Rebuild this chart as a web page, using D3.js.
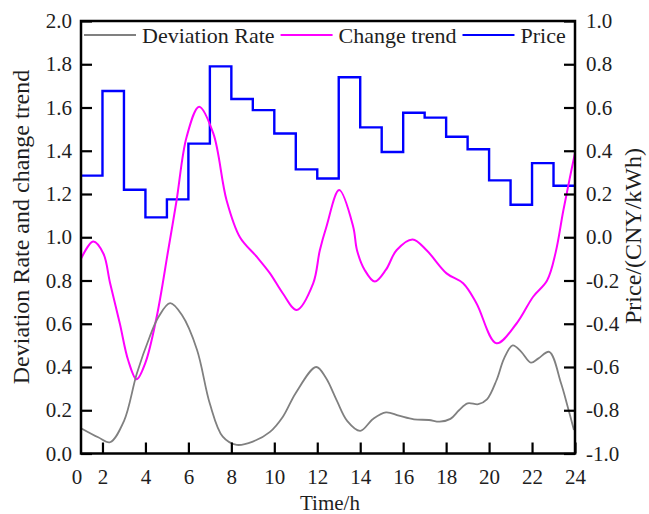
<!DOCTYPE html>
<html>
<head>
<meta charset="utf-8">
<script src="https://cdn.jsdelivr.net/npm/d3@7/dist/d3.min.js"></script>
<style>
  html, body { margin: 0; padding: 0; background: #fff; }
  svg { display: block; }
  text { font-family: "Liberation Serif", "Times New Roman", serif; fill: #1e1e1e; }
</style>
</head>
<body>
<svg id="chart" width="649" height="514"></svg>
<script>
// Hourly price (CNY/kWh), one step per hour starting at hour 1
const priceHours  = [1, 2, 3, 4, 5, 6, 7, 8, 9, 10, 11, 12, 13, 14, 15, 16, 17, 18, 19, 20, 21, 22, 23];
const priceValues = [0.285, 0.676, 0.22, 0.092, 0.175, 0.433, 0.79, 0.639, 0.588, 0.48, 0.314, 0.272,
                     0.74, 0.508, 0.394, 0.576, 0.553, 0.465, 0.407, 0.263, 0.15, 0.343, 0.238];

// Deviation rate curve (hour, value)
const devHours  = [1.0, 1.8, 2.35, 3.0, 3.6, 4.2, 4.6, 5.15, 5.7, 6.4, 7.0, 7.6, 8.25, 9.0, 9.8, 10.4,
                   11.0, 11.95, 12.4, 12.9, 13.4, 14.0, 14.6, 15.2, 15.8, 16.5, 17.2, 17.7, 18.2, 18.6,
                   19.0, 19.5, 19.9, 20.35, 20.7, 21.1, 21.5, 21.95, 22.3, 22.8, 23.35, 23.65, 23.95];
const devValues = [0.117, 0.075, 0.052, 0.15, 0.37, 0.54, 0.63, 0.695, 0.64, 0.48, 0.23, 0.078, 0.04,
                   0.055, 0.10, 0.17, 0.28, 0.40, 0.35, 0.247, 0.15, 0.105, 0.16, 0.19, 0.175, 0.158,
                   0.155, 0.147, 0.16, 0.2, 0.232, 0.228, 0.25, 0.34, 0.44, 0.50, 0.47, 0.42, 0.44,
                   0.47, 0.325, 0.22, 0.109];

// Change trend curve (hour, value)
const trendHours  = [1.0, 1.57, 2.04, 2.35, 2.81, 3.2, 3.59, 4.0, 4.52, 5.06, 5.45, 5.92, 6.5, 7.16,
                     7.78, 8.4, 9.18, 9.8, 10.4, 11.04, 11.81, 12.12, 12.43, 13.02, 13.67, 13.85,
                     14.2, 14.68, 15.2, 15.69, 16.44, 17.09, 18.02, 18.79, 19.41, 20.34, 21.27,
                     22.05, 22.7, 23.1, 23.45, 23.75, 24.0];
const trendValues = [0.90, 0.98, 0.925, 0.79, 0.60, 0.43, 0.343, 0.42, 0.63, 0.94, 1.17, 1.465,
                     1.604, 1.48, 1.17, 1.0, 0.91, 0.833, 0.74, 0.664, 0.787, 0.94, 1.05, 1.218,
                     1.05, 0.94, 0.85, 0.795, 0.85, 0.94, 0.99, 0.94, 0.833, 0.787, 0.695, 0.51,
                     0.60, 0.725, 0.80, 0.93, 1.12, 1.27, 1.39];

// Axis ticks and labels
const xTicks = [2, 4, 6, 8, 10, 12, 14, 16, 18, 20, 22, 24];
const xOriginLabel = "0";
const leftTicks  = [0, 0.2, 0.4, 0.6, 0.8, 1.0, 1.2, 1.4, 1.6, 1.8, 2.0];
const rightTicks = [-1.0, -0.8, -0.6, -0.4, -0.2, 0.0, 0.2, 0.4, 0.6, 0.8, 1.0];
const seriesNames = ["Deviation Rate", "Change trend", "Price"];
const seriesColors = ["#808080", "#ff00ff", "#0000ff"];

const plot = { left: 81, right: 575, top: 21, bottom: 453.5 };
const svg = d3.select("#chart");

const x = d3.scaleLinear().domain([1, 24]).range([plot.left, plot.right]);
const yL = d3.scaleLinear().domain([0, 2]).range([plot.bottom, plot.top]);
const yR = d3.scaleLinear().domain([-1, 1]).range([plot.bottom, plot.top]);

// One-decimal labels with a plain hyphen for negatives
const fmt1 = v => d3.format(".1f")(v).replace("\u2212", "-");

svg.append("defs").append("clipPath").attr("id", "plotClip")
  .append("rect").attr("x", plot.left).attr("y", plot.top)
  .attr("width", plot.right - plot.left).attr("height", plot.bottom - plot.top);

const g = svg.append("g").attr("clip-path", "url(#plotClip)");

// Price step line
const priceData = priceHours.map((h, i) => [h, priceValues[i]]);
priceData.push([24, priceValues[priceValues.length - 1]]);
g.append("path")
  .datum(priceData)
  .attr("fill", "none")
  .attr("stroke", seriesColors[2])
  .attr("stroke-width", 2.4)
  .attr("d", d3.line().x(d => x(d[0])).y(d => yR(d[1])).curve(d3.curveStepAfter));

// Smooth curves
const smooth = d3.line().x(d => x(d[0])).y(d => yL(d[1])).curve(d3.curveCatmullRom.alpha(0.5));
g.append("path")
  .datum(trendHours.map((h, i) => [h, trendValues[i]]))
  .attr("fill", "none").attr("stroke", seriesColors[1]).attr("stroke-width", 2)
  .attr("d", smooth);
g.append("path")
  .datum(devHours.map((h, i) => [h, devValues[i]]))
  .attr("fill", "none").attr("stroke", seriesColors[0]).attr("stroke-width", 1.8)
  .attr("d", smooth);

// Axes with inward ticks
const tickFont = 21;
const leftAxis = svg.append("g").attr("transform", `translate(${plot.left},0)`)
  .call(d3.axisLeft(yL).tickValues(leftTicks).tickFormat(fmt1)
    .tickSizeInner(-11).tickSizeOuter(0).tickPadding(9));
const rightAxis = svg.append("g").attr("transform", `translate(${plot.right},0)`)
  .call(d3.axisRight(yR).tickValues(rightTicks).tickFormat(fmt1)
    .tickSizeInner(-11).tickSizeOuter(0).tickPadding(11));
const bottomAxis = svg.append("g").attr("transform", `translate(0,${plot.bottom})`)
  .call(d3.axisBottom(x).tickValues(xTicks).tickFormat(d3.format("d"))
    .tickSizeInner(-11).tickSizeOuter(0).tickPadding(16));

[leftAxis, rightAxis, bottomAxis].forEach(ax => {
  ax.select(".domain").remove();
  ax.selectAll(".tick line").attr("stroke", "#000").attr("stroke-width", 2.2);
  ax.selectAll(".tick text")
    .style("font-family", '"Liberation Serif", "Times New Roman", serif')
    .style("font-size", tickFont + "px").attr("fill", "#1e1e1e");
});
rightAxis.selectAll(".tick text").attr("text-anchor", "start");

// Origin label on the time axis
svg.append("text")
  .attr("x", plot.left - 4).attr("y", plot.bottom + 16).attr("dy", "0.71em")
  .attr("text-anchor", "middle").style("font-size", tickFont + "px")
  .text(xOriginLabel);

// Frame
svg.append("rect")
  .attr("x", plot.left).attr("y", plot.top)
  .attr("width", plot.right - plot.left).attr("height", plot.bottom - plot.top)
  .attr("fill", "none").attr("stroke", "#000").attr("stroke-width", 2.5);

// Axis titles
svg.append("text")
  .attr("x", (plot.left + plot.right) / 2 + 2).attr("y", 510)
  .attr("text-anchor", "middle").style("font-size", "21px")
  .text("Time/h");
svg.append("text")
  .attr("transform", "translate(29,227) rotate(-90)")
  .attr("text-anchor", "middle").style("font-size", "24px")
  .text("Deviation Rate and change trend");
svg.append("text")
  .attr("transform", "translate(641,236) rotate(-90)")
  .attr("text-anchor", "middle").style("font-size", "24px")
  .text("Price/(CNY/kWh)");

// Legend across the top of the plot
const legend = svg.append("g");
let lx = 84;
const lineLen = 52, ly = 35, gap = 6;
seriesNames.forEach((name, i) => {
  legend.append("line")
    .attr("x1", lx).attr("x2", lx + lineLen).attr("y1", ly).attr("y2", ly)
    .attr("stroke", seriesColors[i]).attr("stroke-width", 1.8);
  const t = legend.append("text")
    .attr("x", lx + lineLen + gap).attr("y", ly + 8)
    .style("font-size", "22px").text(name);
  lx = lx + lineLen + gap + t.node().getComputedTextLength() + gap;
});
</script>
</body>
</html>
